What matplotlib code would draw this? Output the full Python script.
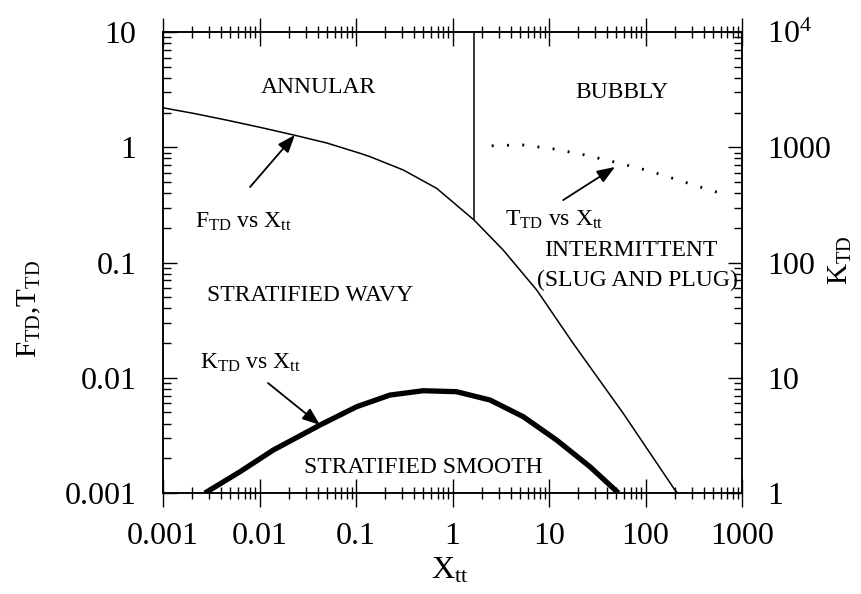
import numpy as np
import matplotlib
matplotlib.use("Agg")
import matplotlib.pyplot as plt
from matplotlib.ticker import LogLocator, NullFormatter

plt.rcParams['font.family'] = ['Liberation Serif', 'DejaVu Serif']
plt.rcParams['mathtext.fontset'] = 'custom'
plt.rcParams['mathtext.rm'] = 'Liberation Serif'
plt.rcParams['mathtext.it'] = 'Liberation Serif:italic'
plt.rcParams['mathtext.bf'] = 'Liberation Serif:bold'

# F_TD vs X_tt (left axis)
f_x = [0.001, 0.00206, 0.00457, 0.0101, 0.0224, 0.0496, 0.110, 0.140, 0.309, 0.686,
       1.52, 1.67, 3.36, 7.46, 17.7, 58.5, 202, 216]
f_y = [2.20, 1.97, 1.72, 1.49, 1.28, 1.09, 0.887, 0.828, 0.635, 0.440,
       0.250, 0.234, 0.128, 0.0577, 0.0200, 0.00494, 0.00106, 0.001]

# T_TD vs X_tt (left axis, dotted)
t_x = [2.55, 5.2, 11.3, 23.6, 49.4, 107, 224, 485, 694]
t_y = [1.03, 1.05, 0.966, 0.857, 0.74, 0.627, 0.516, 0.42, 0.386]

# K_TD vs X_tt (right axis)
k_x = [0.00272, 0.00628, 0.0139, 0.0424, 0.1017, 0.225, 0.498, 1.10, 2.45, 5.42, 12.0, 26.6, 52.4]
k_y = [1.0, 1.53, 2.36, 3.89, 5.61, 7.08, 7.72, 7.57, 6.41, 4.59, 2.88, 1.69, 1.0]

# bubbly / intermittent boundary
bubbly_x = 1.67
bubbly_ymin = 0.234

x_ticks = [0.001, 0.01, 0.1, 1, 10, 100, 1000]
x_labels = ['0.001', '0.01', '0.1', '1', '10', '100', '1000']
y_ticks = [0.001, 0.01, 0.1, 1, 10]
y_labels = ['0.001', '0.01', '0.1', '1', '10']
k_ticks = [1, 10, 100, 1000, 10000]
k_labels = ['1', '10', '100', '1000', '$10^4$']

fig = plt.figure(figsize=(8.62, 5.94), dpi=100)
ax = fig.add_axes([0.1891, 0.1700, 0.6717, 0.7761])
ax2 = ax.twinx()

ax.set_xscale('log')
ax.set_yscale('log')
ax.set_xlim(0.001, 1000)
ax.set_ylim(0.001, 10)
ax2.set_yscale('log')
ax2.set_ylim(1, 1e4)

ax.plot(f_x, f_y, color='black', lw=1.1)
ax.plot(t_x, t_y, color='black', lw=2.0, linestyle=(0, (0.7, 4.8)))
ax.vlines(bubbly_x, bubbly_ymin, 10, color='black', lw=1.1)
ax2.plot(k_x, k_y, color='black', lw=3.8, solid_capstyle='butt')

for a in (ax, ax2):
    for s in a.spines.values():
        s.set_linewidth(1.1)

ax.set_xticks(x_ticks, x_labels)
ax.set_yticks(y_ticks, y_labels)
ax2.set_yticks(k_ticks, k_labels)
for axis in (ax.xaxis, ax.yaxis, ax2.yaxis):
    axis.set_minor_locator(LogLocator(base=10, subs=np.arange(2, 10), numticks=100))
    axis.set_minor_formatter(NullFormatter())

ax.tick_params(axis='x', which='both', direction='inout', top=True, bottom=True,
               labelsize=23, width=1.0, pad=11)
ax.tick_params(axis='x', which='major', length=20)
ax.tick_params(axis='x', which='minor', length=8)
ax.tick_params(axis='y', which='both', direction='in', left=True, right=False,
               labelsize=23, width=1.0, pad=19)
ax.tick_params(axis='y', which='major', length=10)
ax.tick_params(axis='y', which='minor', length=6)
ax2.tick_params(axis='y', which='both', direction='in', right=True,
                labelsize=23, width=1.0, pad=18)
ax2.tick_params(axis='y', which='major', length=10)
ax2.tick_params(axis='y', which='minor', length=6)

ax.set_xlabel('X$_{\\mathrm{tt}}$', fontsize=23)
ax.xaxis.set_label_coords(0.496, -0.137)
ax.set_ylabel('F$_{\\mathrm{TD}}$,T$_{\\mathrm{TD}}$', fontsize=21)
ax.yaxis.set_label_coords(-0.207, 0.40)
ax2.set_ylabel('K$_{\\mathrm{TD}}$', fontsize=21)
ax2.yaxis.set_label_coords(1.147, 0.505)

fs = 17
ax.text(0.0404, 3.27, 'ANNULAR', fontsize=fs, ha='center', va='center')
ax.text(57, 2.96, 'BUBBLY', fontsize=fs, ha='center', va='center')
ax.text(0.0334, 0.0522, 'STRATIFIED WAVY', fontsize=fs, ha='center', va='center')
ax.text(0.494, 0.00168, 'STRATIFIED SMOOTH', fontsize=fs, ha='center', va='center')
ax.text(70.8, 0.128, 'INTERMITTENT', fontsize=fs, ha='center', va='center')
ax.text(81.6, 0.0705, '(SLUG AND PLUG)', fontsize=fs, ha='center', va='center')

ax.text(0.00215, 0.224, 'F$_{\\mathrm{TD}}$ vs X$_{\\mathrm{tt}}$', fontsize=fs, ha='left', va='center')
ax.text(3.50, 0.234, 'T$_{\\mathrm{TD}}$ vs X$_{\\mathrm{tt}}$', fontsize=fs, ha='left', va='center')
ax.text(0.00242, 0.0134, 'K$_{\\mathrm{TD}}$ vs X$_{\\mathrm{tt}}$', fontsize=fs, ha='left', va='center')

arrow = dict(arrowstyle='-|>,head_length=0.45,head_width=0.17', mutation_scale=24,
             color='black', lw=1.3, shrinkA=0, shrinkB=0)
ax.annotate('', xy=(0.0233, 1.28), xytext=(0.00798, 0.452), arrowprops=arrow)
ax.annotate('', xy=(48.3, 0.675), xytext=(14.0, 0.348), arrowprops=arrow)
ax.annotate('', xy=(0.0424, 0.00389), xytext=(0.01225, 0.0090), arrowprops=arrow)

fig.savefig('out.png', dpi=100)
